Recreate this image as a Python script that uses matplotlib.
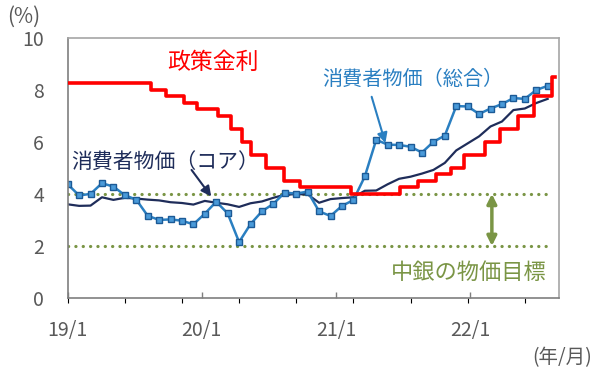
import numpy as np
import matplotlib
matplotlib.use("Agg")
import matplotlib.pyplot as plt

plt.rcParams['font.family'] = ['Noto Sans CJK JP', 'DejaVu Sans']

# monthly CPI, Jan 2019 - Jul 2022 (y/y, %)
cpi_headline = [4.37, 3.94, 4.00, 4.41, 4.28, 3.95, 3.78, 3.16, 3.00, 3.02, 2.97, 2.83,
                3.24, 3.70, 3.25, 2.15, 2.84, 3.33, 3.62, 4.05, 4.01, 4.09, 3.33, 3.15,
                3.54, 3.76, 4.67, 6.08, 5.89, 5.88, 5.81, 5.59, 6.00, 6.24, 7.37, 7.36,
                7.07, 7.28, 7.45, 7.68, 7.65, 7.99, 8.15]
cpi_core = [3.60, 3.54, 3.55, 3.87, 3.77, 3.85, 3.82, 3.78, 3.75, 3.68, 3.65, 3.59,
            3.73, 3.66, 3.60, 3.50, 3.64, 3.71, 3.85, 3.97, 3.99, 3.98, 3.66, 3.80,
            3.84, 3.87, 4.12, 4.13, 4.37, 4.58, 4.66, 4.78, 4.92, 5.19, 5.67, 5.94,
            6.21, 6.59, 6.78, 7.22, 7.28, 7.49, 7.65]
n_categories = 44  # 19/1 .. 22/8

# policy rate decisions
rate_dates = ['2019-01-01', '2019-08-15', '2019-09-26', '2019-11-14', '2019-12-19',
              '2020-02-13', '2020-03-20', '2020-04-21', '2020-05-14', '2020-06-25',
              '2020-08-13', '2020-09-24', '2021-02-11', '2021-06-24', '2021-08-12',
              '2021-09-30', '2021-11-11', '2021-12-16', '2022-02-10', '2022-03-24',
              '2022-05-12', '2022-06-23', '2022-08-11', '2022-08-19']
rate_values = [8.25, 8.00, 7.75, 7.50, 7.25, 7.00, 6.50, 6.00, 5.50, 5.00, 4.50, 4.25,
               4.00, 4.25, 4.50, 4.75, 5.00, 5.50, 6.00, 6.50, 7.00, 7.75, 8.50, 8.50]

target_low, target_high = 2.0, 4.0
x_ticks = ['2019-01-01', '2020-01-01', '2021-01-01', '2022-01-01']
x_ticklabels = ['19/1', '20/1', '21/1', '22/1']

RED = '#ff0000'
BLUE = '#2a7fc1'
NAVY = '#1f2d5a'
OLIVE = '#7a9545'
GREY = '#595959'

fig = plt.figure(figsize=(6, 3.77), dpi=100)
ax = fig.add_axes([0.1128, 0.2095, 0.8190, 0.6905])

# category axis (monthly CPI)
idx = np.arange(len(cpi_headline))
tgt_x = [0, len(cpi_headline) - 1]
dots = dict(lw=2.3, linestyle=(0, (0.05, 2.25)), dash_capstyle='round', color=OLIVE)
ax.plot(tgt_x, [target_high] * 2, **dots)
ax.plot(tgt_x, [target_low] * 2, **dots)
ax.plot(idx, cpi_core, color=NAVY, lw=1.6)
ax.plot(idx, cpi_headline, color=BLUE, lw=1.8, marker='s', ms=5,
        mfc='#4a9ad9', mec='#1c5a96', mew=1.0)
ax.set_xlim(0, n_categories - 1)
ax.set_ylim(0, 10)
ax.set_yticks(np.arange(0, 11, 2))
ax.tick_params(axis='y', length=0, pad=17, labelsize=14, labelcolor=GREY)
ax.tick_params(axis='x', bottom=False, labelbottom=False)

for side in ['left', 'bottom']:
    ax.spines[side].set_color('#7f7f7f')
    ax.spines[side].set_linewidth(1.2)
for side in ['top', 'right']:
    ax.spines[side].set_color('#a6a6a6')
    ax.spines[side].set_linewidth(1.2)

# date axis (policy rate)
ax2 = ax.twiny()
dates = np.array(rate_dates, dtype='datetime64[D]')
ax2.step(dates, rate_values, where='post', color=RED, lw=2.6)
ax2.set_xlim(np.datetime64('2019-01-01'), np.datetime64('2022-08-31'))
ax2.set_xticks(np.array(x_ticks, dtype='datetime64[D]'))
ax2.set_xticklabels(x_ticklabels)
ax2.xaxis.set_ticks_position('bottom')
ax2.xaxis.set_label_position('bottom')
ax2.tick_params(axis='x', direction='in', length=4, width=1, color='#7f7f7f',
                pad=16, labelsize=14, labelcolor=GREY)
for side in ax2.spines:
    ax2.spines[side].set_visible(False)

# target arrow
ax2.annotate('', xy=(np.datetime64('2022-03-01'), target_high),
             xytext=(np.datetime64('2022-03-01'), target_low),
             arrowprops=dict(arrowstyle='<|-|>', color=OLIVE, lw=2.5, mutation_scale=14,
                             shrinkA=0, shrinkB=0))

# labels
ax.text(12.67, 9.04, '政策金利', color=RED, fontsize=16.5, ha='center', va='center')
ax.text(30.2, 8.38, '消費者物価（総合）', color=BLUE, fontsize=14.5, ha='center', va='center')
ax.text(8.5, 5.19, '消費者物価（コア）', color=NAVY, fontsize=15, ha='center', va='center')
ax.text(41.9, 1.0, '中銀の物価目標', color=OLIVE, fontsize=16, ha='right', va='center')

ax.annotate('', xy=(27.8, 5.95), xytext=(26.6, 7.73),
            arrowprops=dict(arrowstyle='-|>', color=BLUE, lw=1.5, mutation_scale=15,
                            shrinkA=0, shrinkB=0))
ax.annotate('', xy=(12.56, 3.9), xytext=(10.84, 4.92),
            arrowprops=dict(arrowstyle='-|>', color=NAVY, lw=1.5, mutation_scale=15,
                            shrinkA=0, shrinkB=0))

fig.text(24 / 600, 1 - 17 / 377, '(%)', color=GREY, fontsize=15, ha='center', va='center')
fig.text(562 / 600, 1 - 358 / 377, '(年/月)', color=GREY, fontsize=14, ha='center', va='center')

fig.savefig('out.png', dpi=100)
